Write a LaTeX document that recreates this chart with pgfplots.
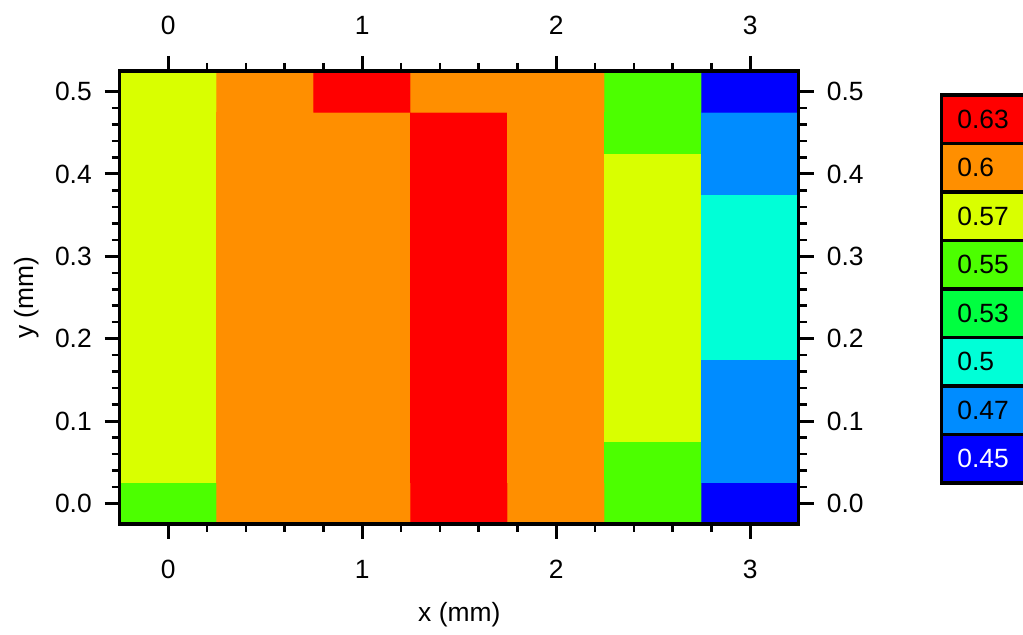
\documentclass[border=0pt]{standalone}
\usepackage{fontspec}
\setmainfont{Liberation Sans}
\usepackage{pgfplots}
\pgfplotsset{compat=1.18}
\usepackage{pgfplotstable}

% x y value class-index (0=0.45 ... 7=0.63)
\pgfplotstableread{
x y z c
0 0.00 0.55 4
0.5 0.00 0.6 6
1 0.00 0.6 6
1.5 0.00 0.63 7
2 0.00 0.6 6
2.5 0.00 0.55 4
3 0.00 0.45 0
0 0.05 0.57 5
0.5 0.05 0.6 6
1 0.05 0.6 6
1.5 0.05 0.63 7
2 0.05 0.6 6
2.5 0.05 0.55 4
3 0.05 0.47 1
0 0.10 0.57 5
0.5 0.10 0.6 6
1 0.10 0.6 6
1.5 0.10 0.63 7
2 0.10 0.6 6
2.5 0.10 0.57 5
3 0.10 0.47 1
0 0.15 0.57 5
0.5 0.15 0.6 6
1 0.15 0.6 6
1.5 0.15 0.63 7
2 0.15 0.6 6
2.5 0.15 0.57 5
3 0.15 0.47 1
0 0.20 0.57 5
0.5 0.20 0.6 6
1 0.20 0.6 6
1.5 0.20 0.63 7
2 0.20 0.6 6
2.5 0.20 0.57 5
3 0.20 0.5 2
0 0.25 0.57 5
0.5 0.25 0.6 6
1 0.25 0.6 6
1.5 0.25 0.63 7
2 0.25 0.6 6
2.5 0.25 0.57 5
3 0.25 0.5 2
0 0.30 0.57 5
0.5 0.30 0.6 6
1 0.30 0.6 6
1.5 0.30 0.63 7
2 0.30 0.6 6
2.5 0.30 0.57 5
3 0.30 0.5 2
0 0.35 0.57 5
0.5 0.35 0.6 6
1 0.35 0.6 6
1.5 0.35 0.63 7
2 0.35 0.6 6
2.5 0.35 0.57 5
3 0.35 0.5 2
0 0.40 0.57 5
0.5 0.40 0.6 6
1 0.40 0.6 6
1.5 0.40 0.63 7
2 0.40 0.6 6
2.5 0.40 0.57 5
3 0.40 0.47 1
0 0.45 0.57 5
0.5 0.45 0.6 6
1 0.45 0.6 6
1.5 0.45 0.63 7
2 0.45 0.6 6
2.5 0.45 0.55 4
3 0.45 0.47 1
0 0.50 0.57 5
0.5 0.50 0.6 6
1 0.50 0.63 7
1.5 0.50 0.6 6
2 0.50 0.6 6
2.5 0.50 0.55 4
3 0.50 0.45 0
}\grid

\definecolor{c0}{RGB}{0,0,255}
\definecolor{c1}{RGB}{0,140,255}
\definecolor{c2}{RGB}{0,255,215}
\definecolor{c3}{RGB}{0,255,64}
\definecolor{c4}{RGB}{76,255,0}
\definecolor{c5}{RGB}{217,255,0}
\definecolor{c6}{RGB}{255,143,0}
\definecolor{c7}{RGB}{255,0,0}

\pgfplotsset{
  colormap={cls}{rgb255=(0,0,255) rgb255=(0,140,255) rgb255=(0,255,215) rgb255=(0,255,64) rgb255=(76,255,0) rgb255=(217,255,0) rgb255=(255,143,0) rgb255=(255,0,0)},
  common/.style={
    scale only axis,
    width=339.5pt, height=226.5pt,
    at={(59.9pt,55.5pt)}, anchor=south west,
    xmin=-0.25, xmax=3.25, ymin=-0.025, ymax=0.525,
    xtick={0,1,2,3}, ytick={0,0.1,0.2,0.3,0.4,0.5},
    minor x tick num=4, minor y tick num=4,
    tick align=outside,
    major tick length=7.5pt, minor tick length=4pt,
    major tick style={line width=1.5pt, black},
    minor tick style={line width=1.25pt, black},
    axis line style={line width=1.6pt, black},
    /pgf/number format/assume math mode=true,
    y tick label style={/pgf/number format/fixed, /pgf/number format/fixed zerofill, /pgf/number format/precision=1},
    tick label style={font=\fontsize{13.2}{15.5}\selectfont},
    label style={font=\fontsize{13.2}{15.5}\selectfont},
  }
}

\begin{document}
\begin{tikzpicture}[font=\fontsize{13.2}{15.5}\selectfont]
\useasboundingbox (0,0) rectangle (511.5pt,317.5pt);
\begin{axis}[common,
  colormap name=cls, colormap access=direct,
  xticklabel style={yshift=-7pt},
  yticklabel style={xshift=-3pt},
  xlabel={x (mm)}, ylabel={y (mm)},
  every axis x label/.style={at={(axis description cs:0.5,-0.201)}, anchor=center},
  every axis y label/.style={at={(axis description cs:-0.1367,0.5)}, anchor=center, rotate=90},
  axis on top]
\addplot[matrix plot*, mesh/cols=7, point meta=explicit] table[x=x, y=y, meta=c] {\grid};
\end{axis}
\begin{axis}[common,
  xticklabel pos=upper, yticklabel pos=upper,
  xticklabel style={yshift=7pt},
  yticklabel style={xshift=3pt}]
\end{axis}
% discrete colour legend
\foreach \i/\lab/\col/\tc in {0/0.63/c7/black,1/0.6/c6/black,2/0.57/c5/black,3/0.55/c4/black,4/0.53/c3/black,5/0.5/c2/black,6/0.47/c1/black,7/0.45/c0/white}{
  \pgfmathsetmacro{\ytop}{270-24.25*\i}
  \pgfmathsetmacro{\ybot}{270-24.25*(\i+1)}
  \draw[line width=1.6pt, fill=\col] (470.8pt,\ybot pt) rectangle (530pt,\ytop pt);
  \node[anchor=west, inner sep=0pt, text=\tc] at (478.5pt,{(\ytop+\ybot)/2*1pt}) {\lab};
}
\end{tikzpicture}
\end{document}
